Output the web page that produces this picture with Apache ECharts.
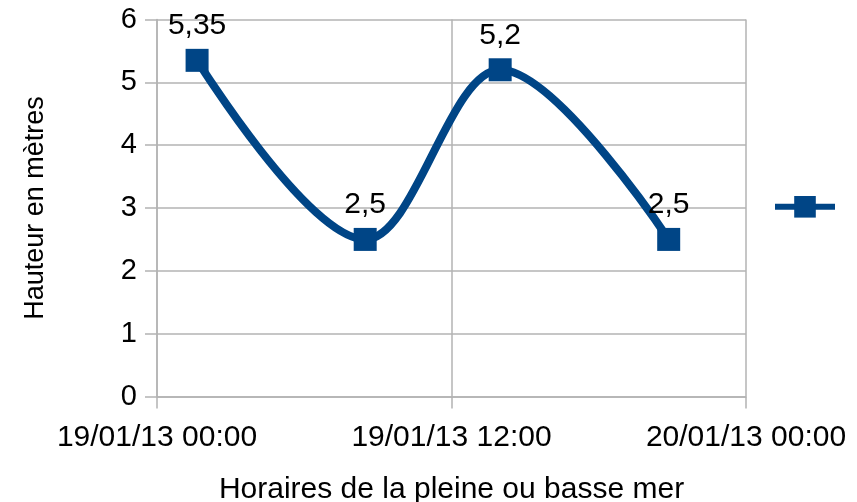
<!DOCTYPE html>
<html>
<head>
<meta charset="utf-8">
<script src="https://cdn.jsdelivr.net/npm/echarts@6/dist/echarts.min.js"></script>
<style>html,body{margin:0;padding:0;background:#fff}#c{width:857px;height:502px}</style>
</head>
<body>
<div id="c"></div>
<script>
const times = ['2013-01-19T01:38:00Z', '2013-01-19T08:29:00Z', '2013-01-19T13:59:00Z', '2013-01-19T20:51:00Z'];
const heights = [5.35, 2.5, 5.2, 2.5];
const xMin = '2013-01-19T00:00:00Z';
const xMax = '2013-01-20T00:00:00Z';
const yTicks = [0, 1, 2, 3, 4, 5, 6];
const xTitle = 'Horaires de la pleine ou basse mer';
const yTitle = 'Hauteur en mètres';
const seriesName = ' ';

const FONT = '"Liberation Sans", Arial, sans-serif';
const blue = '#004586';
const grey = '#b3b3b3';
function pad(n){return (n<10?'0':'')+n;}
function fmt(v){
  const d = new Date(v);
  return pad(d.getUTCDate())+'/'+pad(d.getUTCMonth()+1)+'/'+pad(d.getUTCFullYear()%100)+' '+pad(d.getUTCHours())+':'+pad(d.getUTCMinutes());
}
const HOUR = 3600*1000;
const chart = echarts.init(document.getElementById('c'), null, {renderer:'canvas'});
chart.setOption({
  animation:false,
  backgroundColor:'#fff',
  textStyle:{fontFamily:FONT},
  grid:{left:157, right:111, top:19.5, bottom:105.5, containLabel:false, outerBoundsMode:'none'},
  legend:{
    left:767, top:191, itemWidth:60, itemHeight:27, itemGap:0,
    data:[{name:seriesName}],
    lineStyle:{width:6},
    textStyle:{fontSize:1}
  },
  xAxis:{
    type:'value',
    min:Date.parse(xMin),
    max:Date.parse(xMax),
    interval:12*HOUR,
    name:xTitle, nameLocation:'middle', nameGap:78,
    nameTextStyle:{fontSize:30, color:'#000', fontFamily:FONT},
    axisLine:{lineStyle:{color:grey, width:1.5}},
    axisTick:{show:true, length:12, lineStyle:{color:grey, width:1.5}},
    axisLabel:{formatter:fmt, fontSize:30, color:'#000', margin:26, fontFamily:FONT, showMinLabel:true, showMaxLabel:true, hideOverlap:false},
    splitLine:{show:true, lineStyle:{color:grey, width:1.5}}
  },
  yAxis:{
    type:'value',
    min:yTicks[0], max:yTicks[yTicks.length-1], interval:1,
    name:yTitle, nameLocation:'middle', nameGap:108, nameRotate:90,
    nameTextStyle:{fontSize:27, color:'#000', fontFamily:FONT},
    axisLine:{show:true, lineStyle:{color:grey, width:1.5}},
    axisTick:{show:true, length:12, lineStyle:{color:grey, width:1.5}},
    axisLabel:{fontSize:29, color:'#000', margin:20, fontFamily:FONT},
    splitLine:{show:true, lineStyle:{color:grey, width:1.5}}
  },
  series:[{
    name:seriesName,
    type:'line',
    data:times.map((t,i)=>[Date.parse(t), heights[i]]),
    smooth:0.35,
    symbol:'rect',
    symbolSize:23,
    lineStyle:{color:blue, width:8},
    itemStyle:{color:blue},
    label:{show:true, position:'top', distance:8, fontSize:30, color:'#000', fontFamily:FONT,
      formatter:p=>String(p.value[1]).replace('.', ',')}
  }]
});
</script>
</body>
</html>
